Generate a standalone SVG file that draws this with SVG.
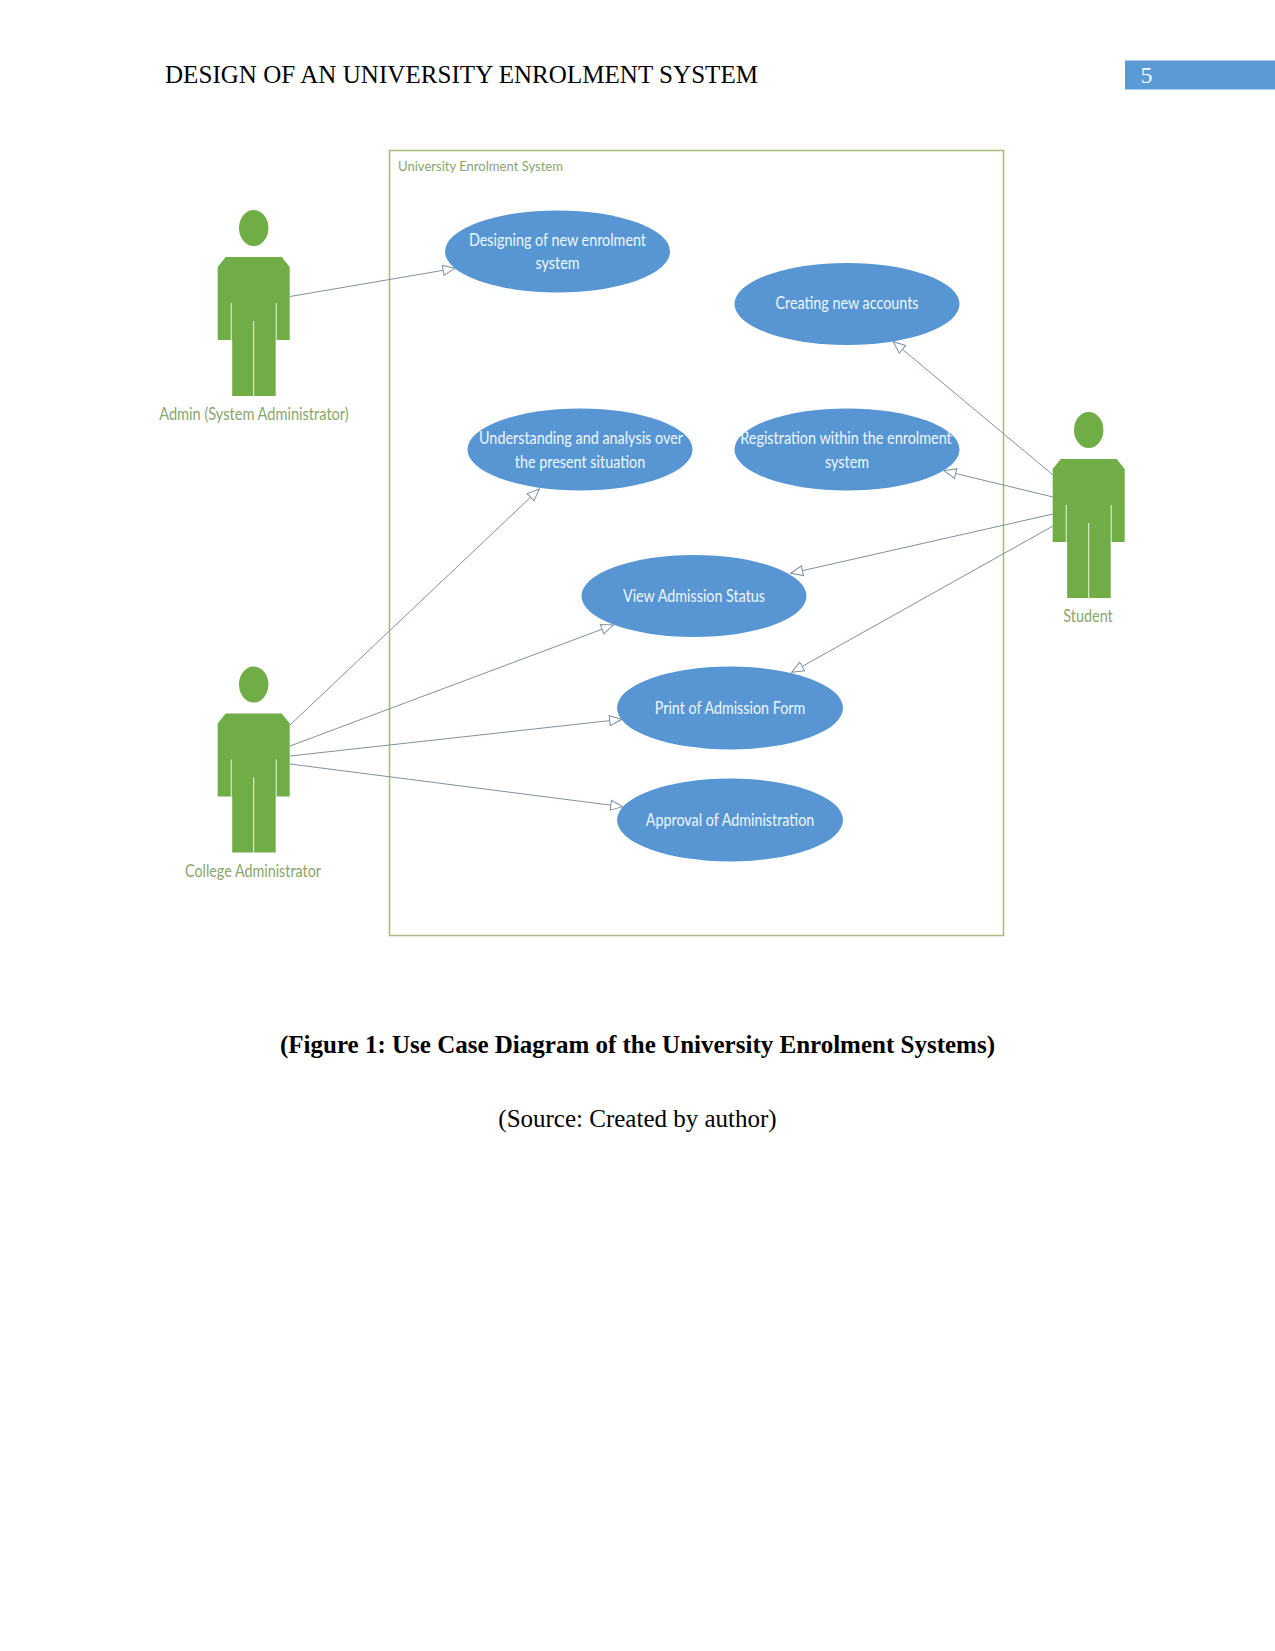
<svg xmlns="http://www.w3.org/2000/svg" xmlns:xlink="http://www.w3.org/1999/xlink" width="1275" height="1651" viewBox="0 0 1275 1651">
<style>
.doc{font-family:"Liberation Serif","Times New Roman",serif;fill:#000;font-size:25px}
.uc{fill:#5896d3}
.ut{font-family:Lato,"Open Sans",sans-serif;font-size:17px;fill:#eef6fc;text-anchor:middle}
.al{font-family:Lato,"Open Sans",sans-serif;font-size:17px;fill:#8aa56c;text-anchor:middle}
.ln{stroke:#7f909e;stroke-width:1;fill:none;marker-end:url(#tri)}
.act{fill:#70ad47}
.sl{stroke:#e9f4e2;stroke-width:1;fill:none}
</style>
<defs>
<marker id="tri" markerUnits="userSpaceOnUse" markerWidth="16" markerHeight="14" viewBox="-14 -7 16 14" refX="0" refY="0" orient="auto" overflow="visible">
<path d="M0 0L-12 -5V5Z" fill="#fff" stroke="#7f909e" stroke-width="1"/>
</marker>
<g id="actor">
<ellipse class="act" cx="0" cy="0" rx="14.7" ry="18"/>
<path class="act" d="M-28 29H28L36 39V112H22V168H-21.500V112H-36V39Z"/>
<path class="sl" d="M-22.500 75V112M22.500 75V112M0 93V168"/>
</g>
</defs>
<rect x="1125" y="60.500" width="150" height="29" fill="#5b9bd5"/>
<text id="page-number" x="1146.500" y="83" font-size="24" fill="#f2f8fc" text-anchor="middle" font-family="Liberation Serif,serif">5</text>
<text id="title" class="doc" x="165" y="83" textLength="593">DESIGN OF AN UNIVERSITY ENROLMENT SYSTEM</text>
<g id="system-boundary">
<rect x="389.500" y="150.500" width="614" height="785" fill="#fff" stroke="#a9b97f" stroke-width="1.500"/>
<text x="398" y="171" font-family="Lato,sans-serif" font-size="14" fill="#8aa56c" textLength="165" lengthAdjust="spacingAndGlyphs">University Enrolment System</text>
</g>
<g id="connectors">
<line class="ln" x1="290" y1="296.500" x2="455" y2="268.300"/>
<line class="ln" x1="1053" y1="475" x2="893.300" y2="341.700"/>
<line class="ln" x1="1053" y1="497" x2="944" y2="470.700"/>
<line class="ln" x1="1053" y1="514" x2="790.700" y2="573.300"/>
<line class="ln" x1="1053" y1="526" x2="791.700" y2="672.300"/>
<line class="ln" x1="290" y1="725" x2="539.300" y2="489"/>
<line class="ln" x1="290" y1="746" x2="613.300" y2="625"/>
<line class="ln" x1="290" y1="756" x2="621.700" y2="719.300"/>
<line class="ln" x1="290" y1="764" x2="622.700" y2="806.700"/>
</g>
<g id="uc-designing"><ellipse class="uc" cx="557.500" cy="251.500" rx="112.500" ry="41"/><text class="ut" x="557.500" y="246" textLength="177" lengthAdjust="spacingAndGlyphs">Designing of new enrolment</text><text class="ut" x="557.500" y="269" textLength="44" lengthAdjust="spacingAndGlyphs">system</text></g>
<g id="uc-creating"><ellipse class="uc" cx="847" cy="304" rx="112.500" ry="41"/><text class="ut" x="847" y="309" textLength="143" lengthAdjust="spacingAndGlyphs">Creating new accounts</text></g>
<g id="uc-understanding"><ellipse class="uc" cx="580" cy="449.500" rx="112.500" ry="41"/><text class="ut" x="581" y="444" textLength="204" lengthAdjust="spacingAndGlyphs">Understanding and analysis over</text><text class="ut" x="580" y="468" textLength="130.500" lengthAdjust="spacingAndGlyphs">the present situation</text></g>
<g id="uc-registration"><ellipse class="uc" cx="847" cy="449.500" rx="112.500" ry="41"/><text class="ut" x="846" y="444" textLength="211.500" lengthAdjust="spacingAndGlyphs">Registration within the enrolment</text><text class="ut" x="847" y="468" textLength="44" lengthAdjust="spacingAndGlyphs">system</text></g>
<g id="uc-view"><ellipse class="uc" cx="694" cy="596" rx="112.500" ry="41"/><text class="ut" x="694" y="602" textLength="142" lengthAdjust="spacingAndGlyphs">View Admission Status</text></g>
<g id="uc-print"><ellipse class="uc" cx="730" cy="708" rx="113" ry="41.500"/><text class="ut" x="730" y="714" textLength="150.500" lengthAdjust="spacingAndGlyphs">Print of Admission Form</text></g>
<g id="uc-approval"><ellipse class="uc" cx="730" cy="820" rx="113" ry="41.500"/><text class="ut" x="730" y="826" textLength="168.500" lengthAdjust="spacingAndGlyphs">Approval of Administration</text></g>
<g id="actor-admin"><use xlink:href="#actor" href="#actor" x="253.700" y="228"/><text class="al" x="254" y="420" textLength="189.500" lengthAdjust="spacingAndGlyphs">Admin (System Administrator)</text></g>
<g id="actor-college"><use xlink:href="#actor" href="#actor" x="253.700" y="684.500"/><text class="al" x="253" y="877" textLength="136" lengthAdjust="spacingAndGlyphs">College Administrator</text></g>
<g id="actor-student"><use xlink:href="#actor" href="#actor" x="1088.700" y="430"/><text class="al" x="1088" y="622" textLength="49.500" lengthAdjust="spacingAndGlyphs">Student</text></g>
<text id="caption" class="doc" x="637.500" y="1053" font-weight="bold" text-anchor="middle">(Figure 1: Use Case Diagram of the University Enrolment Systems)</text>
<text id="source" class="doc" x="637.500" y="1127" text-anchor="middle">(Source: Created by author)</text>
</svg>
